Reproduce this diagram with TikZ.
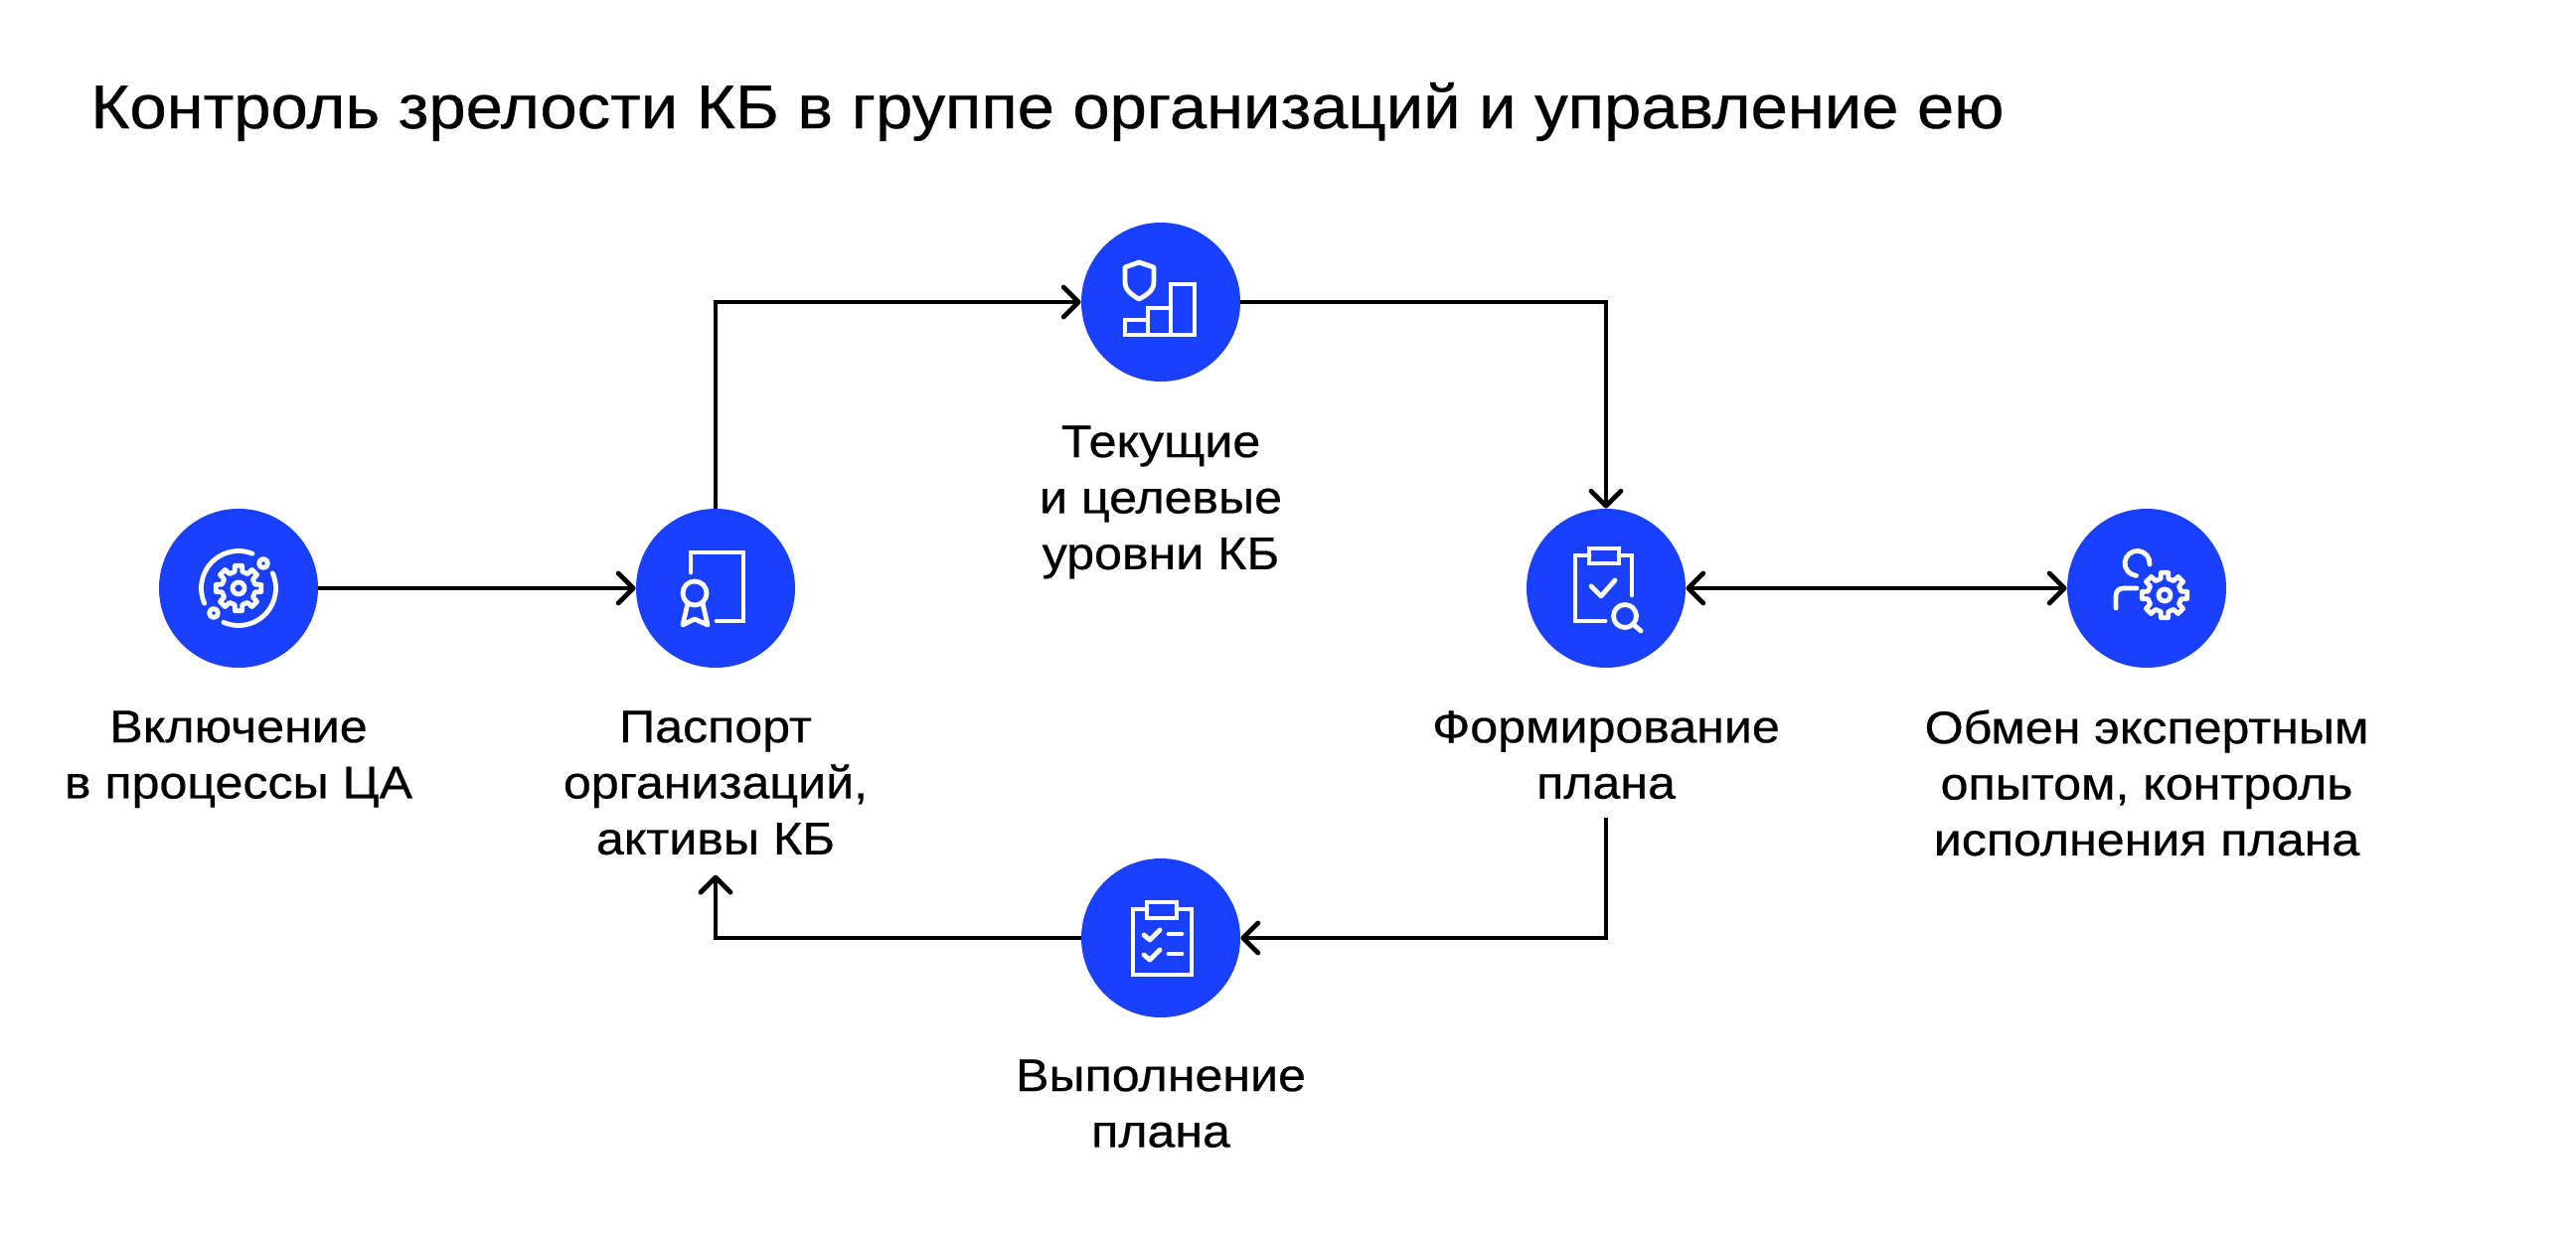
\documentclass[tikz,border=0pt]{standalone}
\usepackage{fontspec}
\setmainfont{Liberation Sans}
\usetikzlibrary{arrows.meta}
\definecolor{dotblue}{RGB}{26,64,255}
\tikzset{
    dot/.style={circle, fill=dotblue, minimum size=80pt, inner sep=0pt},
    lbl/.style={align=center, anchor=north, font=\fontsize{23}{28.2}\selectfont\addfontfeature{FakeStretch=1.09,FakeBold=0.5}, inner sep=0pt},
    iconline/.style={draw=white, line width=2.4pt, line cap=round, line join=round},
    link/.style={line width=2.4pt, black}
}
\newcommand{\gearicon}{%
    \draw[iconline] (-13:17) \foreach \a in {0,45,...,315} {
        -- ({\a-13}:17) -- ({\a-9}:23) -- ({\a+9}:23) -- ({\a+13}:17)
    } -- cycle;
    \draw[iconline] (0,0) circle (6);
}
\begin{document}
\begin{tikzpicture}[x=.5pt, y=-.5pt, >={Straight Barb[length=7.5pt, width=15pt, line width=2.4pt, round]}]
    \useasboundingbox (0,0) rectangle (2592,1248);
    \fill[white] (0,0) rectangle (2592,1248);

    \node[anchor=base west, inner sep=0pt, font=\fontsize{31}{36}\selectfont\addfontfeature{FakeStretch=1.08,FakeBold=0.5}] (title) at (91,129)
        {Контроль зрелости КБ в группе организаций и управление ею};

    % кружки
    \node[dot] (vkl) at (240,592) {};
    \node[dot] (pasp) at (720,592) {};
    \node[dot] (urov) at (1168,304) {};
    \node[dot] (form) at (1616,592) {};
    \node[dot] (obmen) at (2160,592) {};
    \node[dot] (vyp) at (1168,944) {};

    % подписи
    \node[lbl] (vkltext) at (240,715) {Включение\\в процессы ЦА};
    \node[lbl] (pasptext) at (720,715) {Паспорт\\организаций,\\активы КБ};
    \node[lbl] (urovtext) at (1168,428) {Текущие\\и целевые\\уровни КБ};
    \node[lbl] (formtext) at (1616,715) {Формирование\\плана};
    \node[lbl] (obmentext) at (2160,714) {Обмен экспертным\\опытом, контроль\\исполнения плана};
    \node[lbl] (vyptext) at (1168,1066) {Выполнение\\плана};

    % стрелки
    \draw[link, ->] (vkl) -- (pasp);
    \draw[link, ->] (pasp) |- (urov);
    \draw[link, ->] (urov) -| (form);
    \draw[link, <->] (form) -- (obmen);
    \draw[link, ->] (formtext.south) ++(0,18) |- (vyp);
    \draw[link, ->] (vyp) -| ([yshift=-10pt]pasptext.south);

    % шестерёнка
    \begin{scope}[shift={(vkl.center)}, yscale=-1]
        \gearicon
        \draw[iconline] (68:37.5) arc (68:204:37.5);
        \draw[iconline] (24:37.5) arc (24:-114:37.5);
        \draw[iconline] (25,25) circle (4.5);
        \draw[iconline] (-25,-25) circle (4.5);
    \end{scope}

    % сертификат
    \begin{scope}[shift={(pasp.center)}, yscale=-1]
        \draw[iconline, line join=miter] (-25,16) -- (-25,36) -- (28,36) -- (28,-33) -- (1,-33);
        \draw[iconline] (-21,-5) circle (12);
        \draw[iconline] (-28,-15) -- (-33,-37) -- (-21,-31) -- (-8,-37) -- (-13,-15);
    \end{scope}

    % щит и столбики
    \begin{scope}[shift={(urov.center)}, yscale=-1]
        \draw[iconline, line join=miter] (-36,-33) rectangle (-13,-18);
        \draw[iconline, line join=miter] (-13,-33) rectangle (10,-6);
        \draw[iconline, line join=miter] (10,-33) rectangle (34,18);
        \draw[iconline] (-22,40) -- (-7,35) -- (-7,20) .. controls (-7,12) and (-14,7) .. (-22,3)
            .. controls (-29,7) and (-36,12) .. (-36,20) -- (-36,35) -- cycle;
    \end{scope}

    % план и лупа
    \begin{scope}[shift={(form.center)}, yscale=-1]
        \draw[iconline, line join=miter] (-17,33) -- (-31,33) -- (-31,-33) -- (-1,-33);
        \draw[iconline, line join=miter] (13,33) -- (26,33) -- (26,-7);
        \draw[iconline, line join=miter] (-17,25) rectangle (13,40);
        \draw[iconline] (-15,2) -- (-5,-8) -- (9,8);
        \draw[iconline] (19,-28) circle (11.5);
        \draw[iconline] (27,-36) -- (35,-43);
    \end{scope}

    % человек с шестерёнкой
    \begin{scope}[shift={(obmen.center)}, yscale=-1]
        \draw[iconline] (3,24) arc (-5:265:12.5);
        \draw[iconline] (-31,-20) -- (-31,-8) .. controls (-31,-3) and (-28,0) .. (-23,0) -- (-10,0);
        \begin{scope}[shift={(18,-7)}]
            \gearicon
        \end{scope}
    \end{scope}

    % чек-лист
    \begin{scope}[shift={(vyp.center)}, yscale=-1]
        \draw[iconline, line join=miter] (-14,29) -- (-28,29) -- (-28,-37) -- (31,-37) -- (31,29) -- (16,29);
        \draw[iconline, line join=miter] (-14,20) rectangle (16,36);
        \draw[iconline] (-17,3) -- (-11,-2) -- (-1,8);
        \draw[iconline] (-17,-17) -- (-11,-22) -- (-1,-12);
        \draw[iconline] (8,4) -- (21,4);
        \draw[iconline] (8,-16) -- (21,-16);
    \end{scope}
\end{tikzpicture}
\end{document}
